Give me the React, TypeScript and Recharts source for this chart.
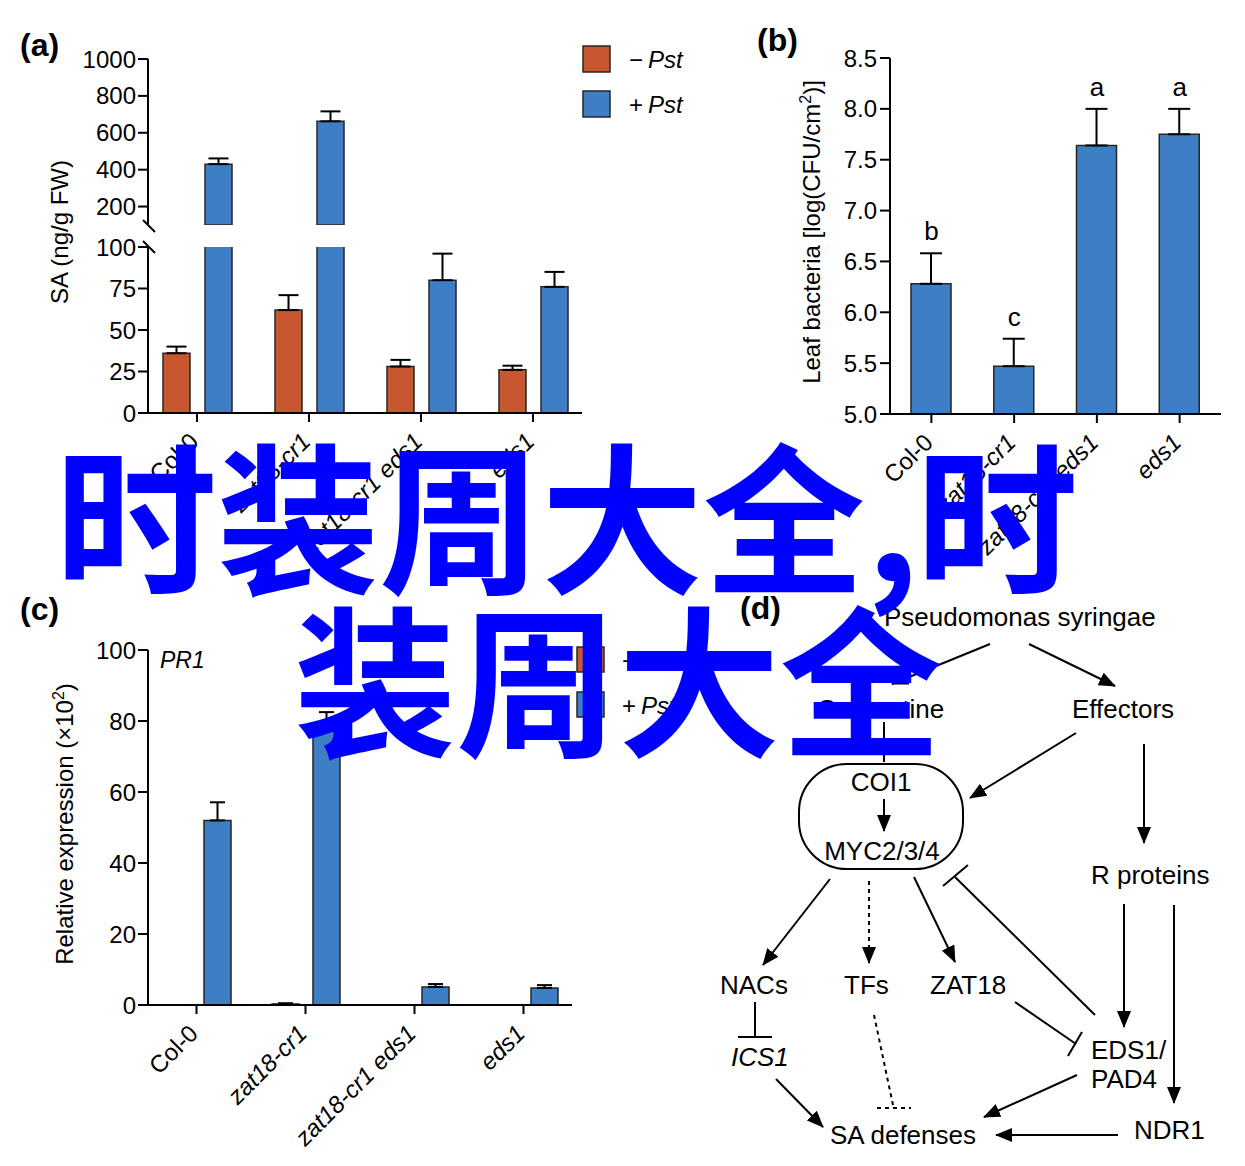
import React from "react";
import { Bar, BarChart, ErrorBar, ReferenceDot, XAxis, YAxis } from "recharts";

const FONT = '"Liberation Sans", Arial, Helvetica, sans-serif';
const CJK = '"Noto Sans CJK SC", sans-serif';
const RED = "#c8562f";
const BLUE = "#3e7ec5";
const EDGE = "#262626";
const INK = "#000";

const groups = ["Col-0", "zat18-cr1", "zat18-cr1 eds1", "eds1"];

// (a) SA, ng/g FW — axis broken at 100
const saMock = [36, 62, 28, 26];
const saMockSd = [4, 9, 4, 2.5];
const saPst = [430, 662, 80, 76];
const saPstSd = [31, 54, 16, 9];
const saBreak = 100;
const saTop = 1000;
const saUpperTicks = [200, 400, 600, 800, 1000];
const saLowerTicks = [0, 25, 50, 75, 100];

// (b) leaf bacteria, log(CFU/cm2)
const bacteria = [6.28, 5.47, 7.64, 7.75];
const bacteriaSd = [0.3, 0.27, 0.36, 0.25];
const bacteriaLetters = ["b", "c", "a", "a"];
const bacteriaTicks = [5, 5.5, 6, 6.5, 7, 7.5, 8, 8.5];

// (c) PR1 relative expression (x10^2)
const pr1Mock = [0, 0.3, 0, 0];
const pr1MockSd = [0, 0.2, 0, 0];
const pr1Pst = [52, 78, 5.1, 4.8];
const pr1PstSd = [5.1, 4.5, 0.8, 0.8];
const pr1Ticks = [0, 20, 40, 60, 80, 100];

const above = (v: number, sd: number) => (v > saBreak ? [0, sd] : null);
const below = (v: number, sd: number) => (v <= saBreak ? [0, sd] : null);

const saUpper = groups.map((g, i) => ({
  group: g,
  mock: saMock[i] > saBreak ? saMock[i] : null,
  mockErr: above(saMock[i], saMockSd[i]),
  pst: saPst[i] > saBreak ? saPst[i] : null,
  pstErr: above(saPst[i], saPstSd[i]),
}));

const saLower = groups.map((g, i) => ({
  group: g,
  mock: saMock[i],
  mockErr: below(saMock[i], saMockSd[i]),
  pst: saPst[i],
  pstErr: below(saPst[i], saPstSd[i]),
}));

const bacteriaData = groups.map((g, i) => ({
  group: g,
  cfu: bacteria[i],
  err: [0, bacteriaSd[i]],
}));

const pr1Data = groups.map((g, i) => ({
  group: g,
  mock: pr1Mock[i],
  mockErr: [0, pr1MockSd[i]],
  pst: pr1Pst[i],
  pstErr: [0, pr1PstSd[i]],
}));

const axisLine = { stroke: INK, strokeWidth: 2 };
const tickStyle = { fill: INK, fontSize: 24, fontFamily: FONT };

function GroupTick(props: any) {
  const { x, y, payload } = props;
  const label = String(payload.value);
  const ax = x + 3;
  const ay = y + 19;
  return (
    <text
      x={ax}
      y={ay}
      transform={`rotate(-45 ${ax} ${ay})`}
      textAnchor="end"
      fontSize={24}
      fontFamily={FONT}
      fill={INK}
      fontStyle={label === "Col-0" ? "normal" : "italic"}
    >
      {label}
    </text>
  );
}

function Arrow({ d, dashed, head = true }: { d: number[]; dashed?: boolean; head?: boolean }) {
  return (
    <line
      x1={d[0]}
      y1={d[1]}
      x2={d[2]}
      y2={d[3]}
      stroke={INK}
      strokeWidth={2}
      strokeDasharray={dashed ? "4 4" : undefined}
      markerEnd={head ? "url(#head)" : undefined}
    />
  );
}

function Diagram() {
  const t = { fontSize: 26, fontFamily: FONT, fill: INK };
  return (
    <svg width={1245} height={1166} style={{ position: "absolute", left: 0, top: 0 }}>
      <defs>
        <marker id="head" markerUnits="userSpaceOnUse" markerWidth={17} markerHeight={14} refX={16} refY={7} orient="auto">
          <path d="M0,0 L17,7 L0,14 z" fill={INK} />
        </marker>
      </defs>

      {/* panel letters */}
      <g fontFamily={FONT} fontWeight="bold" fontSize={32} fill={INK}>
        <text x={20} y={56}>(a)</text>
        <text x={757} y={51}>(b)</text>
        <text x={20} y={620}>(c)</text>
        <text x={740} y={619}>(d)</text>
      </g>

      {/* axis titles */}
      <text {...t} fontSize={24} transform="translate(68 232) rotate(-90)" textAnchor="middle">
        SA (ng/g FW)
      </text>
      <text {...t} fontSize={24} transform="translate(820 232) rotate(-90)" textAnchor="middle">
        Leaf bacteria [log(CFU/cm<tspan fontSize={16} dy={-9}>2</tspan>
        <tspan dy={9}>)]</tspan>
      </text>
      <text {...t} fontSize={24} transform="translate(73 824) rotate(-90)" textAnchor="middle">
        Relative expression (×10<tspan fontSize={16} dy={-9}>2</tspan>
        <tspan dy={9}>)</tspan>
      </text>
      <text {...t} fontSize={23} fontStyle="italic" x={160} y={668}>PR1</text>

      {/* legends */}
      <rect x={583} y={46} width={27} height={26} fill={RED} stroke={EDGE} strokeWidth={1.5} />
      <rect x={583} y={91} width={27} height={26} fill={BLUE} stroke={EDGE} strokeWidth={1.5} />
      <text {...t} fontSize={24} x={629} y={68}>−<tspan fontStyle="italic" dx={5}>Pst</tspan></text>
      <text {...t} fontSize={24} x={629} y={113}>+<tspan fontStyle="italic" dx={5}>Pst</tspan></text>
      <rect x={577} y={647} width={27} height={25} fill={RED} stroke={EDGE} strokeWidth={1.5} />
      <rect x={577} y={692} width={27} height={25} fill={BLUE} stroke={EDGE} strokeWidth={1.5} />
      <text {...t} fontSize={24} x={622} y={669}>−<tspan fontStyle="italic" dx={5}>Pst</tspan></text>
      <text {...t} fontSize={24} x={622} y={714}>+<tspan fontStyle="italic" dx={5}>Pst</tspan></text>

      {/* axis break marks on (a) */}
      <line x1={143} y1={220} x2={155} y2={232} stroke={INK} strokeWidth={2} />
      <line x1={143} y1={241} x2={155} y2={253} stroke={INK} strokeWidth={2} />

      {/* (d) pathway */}
      <text {...t} x={884} y={626}>Pseudomonas syringae</text>
      <text {...t} x={817} y={718}>Coronatine</text>
      <text {...t} x={1072} y={718}>Effectors</text>
      <rect x={799} y={764} width={164} height={105} rx={48} ry={48} fill="none" stroke={INK} strokeWidth={2} />
      <text {...t} x={881} y={791} textAnchor="middle">COI1</text>
      <text {...t} x={882} y={860} textAnchor="middle">MYC2/3/4</text>
      <text {...t} x={1091} y={884}>R proteins</text>
      <text {...t} x={720} y={994}>NACs</text>
      <text {...t} x={844} y={994}>TFs</text>
      <text {...t} x={930} y={994}>ZAT18</text>
      <text {...t} x={731} y={1066} fontStyle="italic">ICS1</text>
      <text {...t} x={1091} y={1059}>EDS1/</text>
      <text {...t} x={1091} y={1088}>PAD4</text>
      <text {...t} x={830} y={1144}>SA defenses</text>
      <text {...t} x={1134} y={1139}>NDR1</text>

      <Arrow d={[990, 644, 892, 684]} />
      <Arrow d={[1029, 644, 1115, 686]} />
      <Arrow d={[884, 722, 884, 762]} head={false} />
      <Arrow d={[1076, 733, 970, 798]} />
      <Arrow d={[1144, 744, 1144, 843]} />
      <Arrow d={[884, 799, 884, 831]} />
      <Arrow d={[830, 879, 763, 965]} />
      <Arrow d={[869, 881, 869, 963]} dashed />
      <Arrow d={[914, 877, 955, 962]} />
      <Arrow d={[1124, 904, 1124, 1027]} />
      <Arrow d={[1174, 905, 1174, 1103]} />
      <Arrow d={[776, 1079, 823, 1127]} />
      <Arrow d={[1077, 1075, 984, 1117]} />
      <Arrow d={[1118, 1135, 996, 1135]} />

      {/* inhibition lines */}
      <Arrow d={[1095, 1015, 955, 877]} head={false} />
      <Arrow d={[943, 886, 968, 865]} head={false} />
      <Arrow d={[1015, 1002, 1076, 1044]} head={false} />
      <Arrow d={[1082, 1032, 1068, 1056]} head={false} />
      <Arrow d={[755, 1002, 755, 1037]} head={false} />
      <Arrow d={[738, 1037, 772, 1037]} head={false} />
      <Arrow d={[874, 1015, 893, 1105]} dashed head={false} />
      <Arrow d={[877, 1108, 911, 1108]} dashed head={false} />
    </svg>
  );
}

function Watermark() {
  return (
    <svg width={1245} height={1166} style={{ position: "absolute", left: 0, top: 0 }}>
      <g fontFamily={CJK} fontWeight="bold" fontSize={162} fill="#0000ff">
        <text y={582}>
          <tspan x={55}>时装周大全</tspan>
          <tspan x={866}>,</tspan>
          <tspan x={916}>时</tspan>
        </text>
        <text x={294} y={745}>装周大全</text>
      </g>
    </svg>
  );
}

export default function App() {
  return (
    <div
      style={{
        position: "absolute",
        left: 0,
        top: 0,
        width: 1245,
        height: 1166,
        background: "#fff",
        fontFamily: FONT,
        overflow: "hidden",
      }}
    >
      {/* (a) upper segment, 100-1000 */}
      <div style={{ position: "absolute", left: 0, top: 0 }}>
        <BarChart width={620} height={230} data={saUpper} margin={{ top: 59, right: 38, bottom: 5, left: 0 }} barSize={27} barGap={15}>
          <XAxis dataKey="group" hide padding={{ left: -7, right: -7 }} />
          <YAxis
            width={148}
            domain={[saBreak, saTop]}
            ticks={saUpperTicks}
            interval={0}
            allowDataOverflow
            axisLine={axisLine}
            tickLine={axisLine}
            tickSize={10}
            tickMargin={2}
            tick={tickStyle}
          />
          <Bar dataKey="mock" fill={RED} stroke={EDGE} strokeWidth={1.5} isAnimationActive={false}>
            <ErrorBar dataKey="mockErr" width={10} stroke={INK} strokeWidth={2} direction="y" />
          </Bar>
          <Bar dataKey="pst" fill={BLUE} stroke={EDGE} strokeWidth={1.5} isAnimationActive={false}>
            <ErrorBar dataKey="pstErr" width={10} stroke={INK} strokeWidth={2} direction="y" />
          </Bar>
        </BarChart>
      </div>

      {/* (a) lower segment, 0-100 */}
      <div style={{ position: "absolute", left: 0, top: 0 }}>
        <BarChart width={620} height={560} data={saLower} margin={{ top: 247, right: 38, bottom: 0, left: 0 }} barSize={27} barGap={15}>
          <XAxis
            dataKey="group"
            height={147}
            interval={0}
            padding={{ left: -7, right: -7 }}
            axisLine={axisLine}
            tickLine={axisLine}
            tickSize={9}
            tick={<GroupTick />}
          />
          <YAxis
            width={148}
            domain={[0, saBreak]}
            ticks={saLowerTicks}
            interval={0}
            allowDataOverflow
            axisLine={axisLine}
            tickLine={axisLine}
            tickSize={10}
            tickMargin={2}
            tick={tickStyle}
          />
          <Bar dataKey="mock" fill={RED} stroke={EDGE} strokeWidth={1.5} isAnimationActive={false}>
            <ErrorBar dataKey="mockErr" width={10} stroke={INK} strokeWidth={2} direction="y" />
          </Bar>
          <Bar dataKey="pst" fill={BLUE} stroke={EDGE} strokeWidth={1.5} isAnimationActive={false}>
            <ErrorBar dataKey="pstErr" width={10} stroke={INK} strokeWidth={2} direction="y" />
          </Bar>
        </BarChart>
      </div>

      {/* (b) */}
      <div style={{ position: "absolute", left: 700, top: 0 }}>
        <BarChart width={545} height={560} data={bacteriaData} margin={{ top: 58, right: 24, bottom: 0, left: 0 }} barSize={40}>
          <XAxis
            dataKey="group"
            height={146}
            interval={0}
            axisLine={axisLine}
            tickLine={axisLine}
            tickSize={9}
            tick={<GroupTick />}
          />
          <YAxis
            width={190}
            domain={[5, 8.5]}
            ticks={bacteriaTicks}
            interval={0}
            axisLine={axisLine}
            tickLine={axisLine}
            tickSize={10}
            tickMargin={3}
            tick={tickStyle}
            tickFormatter={(v: number) => v.toFixed(1)}
          />
          <Bar dataKey="cfu" fill={BLUE} stroke={EDGE} strokeWidth={1.5} isAnimationActive={false}>
            <ErrorBar dataKey="err" width={11} stroke={INK} strokeWidth={2} direction="y" />
          </Bar>
          {groups.map((g, i) => (
            <ReferenceDot
              key={g}
              x={g}
              y={bacteria[i] + bacteriaSd[i]}
              r={0}
              fill="none"
              stroke="none"
              label={{ value: bacteriaLetters[i], position: "top", offset: 13, fontSize: 26, fill: INK, fontFamily: FONT }}
            />
          ))}
        </BarChart>
      </div>

      {/* (c) */}
      <div style={{ position: "absolute", left: 0, top: 600 }}>
        <BarChart width={620} height={566} data={pr1Data} margin={{ top: 50, right: 48, bottom: 0, left: 0 }} barSize={27} barGap={14}>
          <XAxis
            dataKey="group"
            height={161}
            interval={0}
            padding={{ left: -6, right: -6 }}
            axisLine={axisLine}
            tickLine={axisLine}
            tickSize={9}
            tick={<GroupTick />}
          />
          <YAxis
            width={148}
            domain={[0, 100]}
            ticks={pr1Ticks}
            interval={0}
            axisLine={axisLine}
            tickLine={axisLine}
            tickSize={10}
            tickMargin={2}
            tick={tickStyle}
          />
          <Bar dataKey="mock" fill={RED} stroke={EDGE} strokeWidth={1.5} isAnimationActive={false}>
            <ErrorBar dataKey="mockErr" width={7.5} stroke={INK} strokeWidth={2} direction="y" />
          </Bar>
          <Bar dataKey="pst" fill={BLUE} stroke={EDGE} strokeWidth={1.5} isAnimationActive={false}>
            <ErrorBar dataKey="pstErr" width={7.5} stroke={INK} strokeWidth={2} direction="y" />
          </Bar>
        </BarChart>
      </div>

      <Diagram />
      <Watermark />
    </div>
  );
}
